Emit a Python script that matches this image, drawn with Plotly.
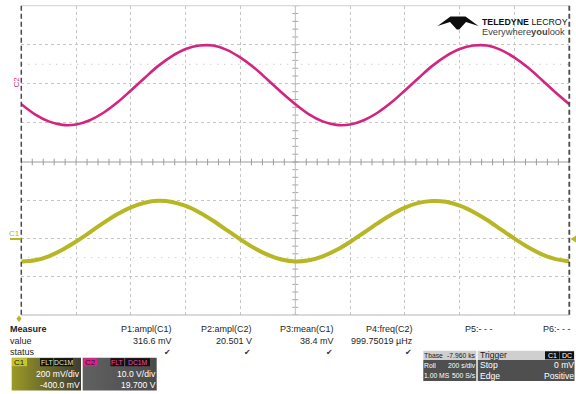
import plotly.graph_objects as go

FONT = "Liberation Sans, Arial, sans-serif"
W, H = 576, 394

# Acquisition: roll mode, 200 s/div, 10 divisions -> 2000 s on screen
time_s = [0, 50, 100, 150, 200, 250, 300, 350, 400, 450,
          500, 550, 600, 650, 700, 750, 800, 850, 900, 950,
          1000, 1050, 1100, 1150, 1200, 1250, 1300, 1350, 1400, 1450,
          1500, 1550, 1600, 1650, 1700, 1750, 1800, 1850, 1900, 1950, 2000]

# C1 (mV) and C2 (V) readings at the sample times above
c1_mv = [-120, -114, -93, -59, -16, 32, 82, 127, 163, 187,
         197, 191, 170, 136, 93, 44, -5, -50, -86, -110,
         -120, -114, -93, -60, -18, 30, 79, 124, 161, 186,
         196, 192, 172, 139, 97, 48, -1, -46, -83, -108, -119]
c2_v = [-5.2, -7.8, -9.6, -10.5, -10.4, -9.3, -7.4, -4.8, -1.7, 1.5,
        4.6, 7.1, 8.9, 9.8, 9.8, 8.7, 6.7, 4.1, 1.0, -2.2,
        -5.2, -7.8, -9.6, -10.5, -10.4, -9.3, -7.4, -4.8, -1.7, 1.5,
        4.6, 7.1, 8.9, 9.8, 9.8, 8.7, 6.7, 4.1, 1.0, -2.2, -5.2]

# Measurement table
meas_names = ["P1:ampl(C1)", "P2:ampl(C2)", "P3:mean(C1)", "P4:freq(C2)", "P5:- - -", "P6:- - -"]
meas_values = ["316.6 mV", "20.501 V", "38.4 mV", "999.75019 µHz", "", ""]
meas_ok = [True, True, True, True, False, False]

# Channel / timebase / trigger descriptors
c1_info = ["C1", "FLT", "DC1M", "200 mV/div", "-400.0 mV"]
c2_info = ["C2", "FLT", "DC1M", "10.0 V/div", "19.700 V"]
tbase_rows = [("Tbase", "-7.960 ks"), ("Roll", "200 s/div"), ("1.00 MS", "500 S/s")]
trig_rows = [("Trigger", ""), ("Stop", "0 mV"), ("Edge", "Positive")]

C1_COL = "#b7b625"
C2_COL = "#d3247f"

# screen geometry (pixels)
GX0, GX1 = 21.3, 569.3
GY_TOP, GY_MID, GY_BOT = 5.7, 162.0, 315.0

fig = go.Figure()

fig.add_trace(go.Scatter(x=time_s, y=c2_v, xaxis="x", yaxis="y", mode="lines",
                         line=dict(color=C2_COL, width=2.6, shape="spline"),
                         hoverinfo="skip", showlegend=False))
fig.add_trace(go.Scatter(x=time_s, y=c1_mv, xaxis="x2", yaxis="y2", mode="lines",
                         line=dict(color=C1_COL, width=4, shape="spline"),
                         hoverinfo="skip", showlegend=False))

# pixel-space overlay used for the instrument chrome
def panel(x0, y0, x1, y1, colors):
    fig.add_trace(go.Scatter(x=[x0, x1, x1, x0, x0], y=[y0, y0, y1, y1, y0],
                             xaxis="x3", yaxis="y3", mode="lines", fill="toself",
                             line=dict(width=0),
                             fillgradient=dict(type="horizontal", colorscale=colors),
                             hoverinfo="skip", showlegend=False))

panel(11.7, 357.7, 81.0, 390.5, [[0, "#9c9a26"], [0.5, "#6a6a2c"], [1, "#3e3e34"]])
panel(82.7, 357.7, 156.7, 390.5, [[0, "#616161"], [1, "#4a4a4a"]])

grid = dict(showgrid=True, gridcolor="#c6c6c6", griddash="dot", gridwidth=1,
            zeroline=False, showticklabels=False, ticks="", showline=False,
            fixedrange=True)
xdom = [GX0 / W, GX1 / W]
fig.update_layout(
    width=W, height=H, autosize=False,
    margin=dict(l=0, r=0, t=0, b=0, pad=0),
    paper_bgcolor="white", plot_bgcolor="rgba(0,0,0,0)",
    xaxis=dict(domain=xdom, range=[0, 2000], dtick=200, tick0=0, anchor="y", **grid),
    yaxis=dict(domain=[1 - GY_MID / H, 1 - GY_TOP / H], range=[-20, 20], dtick=10, anchor="x", **grid),
    xaxis2=dict(domain=xdom, range=[0, 2000], dtick=200, tick0=0, anchor="y2", **grid),
    yaxis2=dict(domain=[1 - GY_BOT / H, 1 - GY_MID / H], range=[-400, 400], dtick=200, anchor="x2", **grid),
    xaxis3=dict(domain=[0, 1], range=[0, W], visible=False, anchor="y3", fixedrange=True),
    yaxis3=dict(domain=[0, 1], range=[H, 0], visible=False, anchor="x3", fixedrange=True),
    showlegend=False,
)

shapes = []

def hline(y, x0, x1, color, width=1, dash="solid", xref="x3", yref="y3", layer="below"):
    shapes.append(dict(type="line", x0=x0, x1=x1, y0=y, y1=y, xref=xref, yref=yref,
                       line=dict(color=color, width=width, dash=dash), layer=layer))

def vline(x, y0, y1, color, width=1, dash="solid", xref="x3", yref="y3", layer="below"):
    shapes.append(dict(type="line", x0=x, x1=x, y0=y0, y1=y1, xref=xref, yref=yref,
                       line=dict(color=color, width=width, dash=dash), layer=layer))

def rect(x0, y0, x1, y1, fill, layer="above"):
    shapes.append(dict(type="rect", x0=x0, x1=x1, y0=y0, y1=y1, xref="x3", yref="y3",
                       fillcolor=fill, line=dict(width=0), layer=layer))

# faint half-division dotted rows
hline(5, 0, 2000, "#b8b8b8", 1, "1px,6px", xref="x", yref="y")
hline(-100, 0, 2000, "#b8b8b8", 1, "1px,6px", xref="x2", yref="y2")

# centre vertical axis with minor ticks in each grid
vline(1000, -20, 20, "#c0c0c0", 1, xref="x", yref="y")
vline(1000, -400, 400, "#c0c0c0", 1, xref="x2", yref="y2")
for v in range(-20, 21, 2):
    hline(v, 989, 1011, "#a8a8a8", 1, xref="x", yref="y")
for v in range(-400, 401, 40):
    hline(v, 989, 1011, "#a8a8a8", 1, xref="x2", yref="y2")

# borders and separator with minor ticks
hline(GY_TOP, GX0, GX1, "#cfcfcf", 1)
hline(GY_BOT, GX0, GX1, "#b5b5b5", 1)
hline(GY_MID, GX0, GX1, "#9c9c9c", 1)
for t in range(0, 2001, 40):
    vline(t, GY_MID - 3.3, GY_MID + 3.3, "#9c9c9c", 1, xref="x", yref="y3")
vline(GX0, GY_TOP, GY_BOT, "#4a4a4a", 1.5, "5px,3px", layer="above")
vline(GX1, GY_TOP, GY_BOT, "#4a4a4a", 1.8, "5px,3px", layer="above")

# channel ground markers and trigger markers
hline(239, 10, GX0, C1_COL, 2, layer="above")
shapes.append(dict(type="path", path="M 576 235.5 L 570.5 239 L 576 242.5 Z", xref="x3", yref="y3",
                   fillcolor=C1_COL, line=dict(width=0), layer="above"))
shapes.append(dict(type="path", path="M 19 315.5 L 21.6 318.8 L 19 322 L 16.4 318.8 Z", xref="x3", yref="y3",
                   fillcolor=C1_COL, line=dict(width=0), layer="above"))

# logo mark
shapes.append(dict(type="path",
                   path="M 437.5 26 L 450.5 16.5 L 465.5 16.5 L 478.5 26 L 466 22 L 459.2 29.5 L 456.8 29.5 L 450 22 Z",
                   xref="x3", yref="y3", fillcolor="#0d0d0d", line=dict(width=0), layer="above"))

# channel header chips
rect(12.2, 358.2, 27, 366.2, "#c9c62a")
rect(40, 358.2, 53, 366.2, "#111111")
rect(54.2, 358.2, 73, 366.2, "#111111")
rect(83.5, 358.2, 97, 366.2, "#e0218c")
rect(110.5, 358.2, 124, 366.2, "#111111")
rect(125.2, 358.2, 150, 366.2, "#111111")

# timebase and trigger panels
ROWS = [350.7, 360.0, 370.4, 381.0]
rect(423.3, ROWS[0], 476.3, ROWS[1], "#cfcfcf")
rect(423.3, ROWS[1], 476.3, ROWS[3], "#4f4f4f")
rect(477.7, ROWS[0], 574.5, ROWS[1], "#cfcfcf")
rect(477.7, ROWS[1], 574.5, ROWS[3], "#4f4f4f")
rect(545.0, 351.3, 559.5, 359.4, "#111111")
rect(559.8, 351.3, 574.0, 359.4, "#111111")

fig.update_layout(shapes=shapes)

def txt(x, y, s, size=9, color="#1e1e1e", anchor="left", family=FONT, angle=0):
    fig.add_annotation(x=x, y=y, xref="x3", yref="y3", text=s, showarrow=False,
                       xanchor=anchor, yanchor="middle", textangle=angle,
                       font=dict(family=family, size=size, color=color),
                       borderpad=0, borderwidth=0)

# trace labels
txt(9, 233, "C1", 8, C1_COL)
txt(16, 82.5, "C2", 8, C2_COL, anchor="center", angle=-90)

# logo
txt(481.5, 21.5, "<b>TELEDYNE</b> LECROY", 8.8, "#111111")
txt(481.5, 31.5, "Everywhere<b>you</b>look", 9.3, "#444444")

# measurement table
MS = 9
txt(10, 328.5, "<b>Measure</b>", MS)
txt(10, 340.5, "value", MS)
txt(10, 352, "status", MS)
meas_right = [172, 252, 334, 413, 493, 571]
for xr, name, val, ok in zip(meas_right, meas_names, meas_values, meas_ok):
    txt(xr, 328.5, name, MS, anchor="right")
    if val:
        txt(xr, 340.5, val, MS, anchor="right")
    if ok:
        txt(xr - 1, 352, "✔", 8, "#333333", anchor="right", family="DejaVu Sans")

# channel descriptors
txt(19.6, 362.2, c1_info[0], 8, "#1a1a1a", anchor="center")
txt(46.5, 362.3, c1_info[1], 6.8, "#e6e6c8", anchor="center")
txt(63.6, 362.3, c1_info[2], 6.8, "#e6e6c8", anchor="center")
txt(80, 373.5, c1_info[3], 8.6, "#ffffff", anchor="right")
txt(80, 384.5, c1_info[4], 8.6, "#ffffff", anchor="right")
txt(90.2, 362.2, c2_info[0], 8, "#1a1a1a", anchor="center")
txt(117.2, 362.3, c2_info[1], 6.8, "#f04aa8", anchor="center")
txt(137.6, 362.3, c2_info[2], 6.8, "#f04aa8", anchor="center")
txt(155.7, 373.5, c2_info[3], 8.6, "#ffffff", anchor="right")
txt(155.7, 384.5, c2_info[4], 8.6, "#ffffff", anchor="right")

# timebase / trigger text
row_y = [(ROWS[i] + ROWS[i + 1]) / 2 for i in range(3)]
for (lab, val), yy, i in zip(tbase_rows, row_y, range(3)):
    col = "#1a1a1a" if i == 0 else "#ffffff"
    txt(424.3, yy, lab, 6.8, col)
    txt(476.0, yy, val, 6.8, col, anchor="right")
for (lab, val), yy, i in zip(trig_rows, row_y, range(3)):
    col = "#1a1a1a" if i == 0 else "#ffffff"
    txt(479.5, yy, lab, 8.6, col)
    if val:
        txt(573.5, yy, val, 8.6, col, anchor="right")
txt(552.2, row_y[0], "C1", 7, "#ffffff", anchor="center")
txt(566.9, row_y[0], "DC", 7, "#ffffff", anchor="center")

fig.write_html("out.html")
